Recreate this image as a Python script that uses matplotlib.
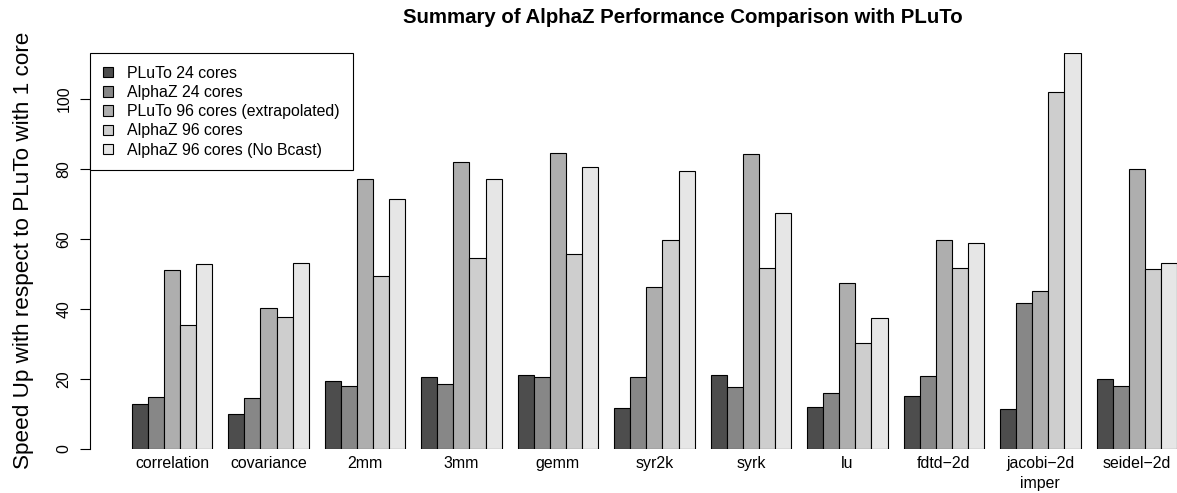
import numpy as np
import matplotlib
matplotlib.use("Agg")
import matplotlib.pyplot as plt
from matplotlib.patches import Patch

plt.rcParams['font.family'] = ['Liberation Sans', 'DejaVu Sans']

# benchmark names (R style minus sign in names)
benchmarks = ["correlation", "covariance", "2mm", "3mm", "gemm", "syr2k", "syrk",
              "lu", "fdtd\u22122d", "jacobi\u22122d\nimper", "seidel\u22122d"]

series_names = ["PLuTo 24 cores", "AlphaZ 24 cores", "PLuTo 96 cores (extrapolated)",
                "AlphaZ 96 cores", "AlphaZ 96 cores (No Bcast)"]

pluto_24 = [12.8, 10.1, 19.4, 20.5, 21.1, 11.6, 21.1, 12.0, 15.0, 11.3, 20.0]
alphaz_24 = [14.8, 14.7, 18.1, 18.7, 20.5, 20.5, 17.6, 16.0, 20.8, 41.6, 18.0]
pluto_96 = [51.1, 40.4, 77.2, 81.9, 84.4, 46.4, 84.2, 47.5, 59.7, 45.1, 79.9]
alphaz_96 = [35.3, 37.6, 49.3, 54.6, 55.6, 59.6, 51.7, 30.2, 51.7, 102.1, 51.5]
alphaz_96_nobcast = [52.9, 53.1, 71.3, 77.0, 80.5, 79.5, 67.3, 37.5, 58.9, 113.1, 53.2]

data = [pluto_24, alphaz_24, pluto_96, alphaz_96, alphaz_96_nobcast]
# gray.colors(5) from R
colors = ["#4D4D4D", "#878787", "#AEAEAE", "#CECECE", "#E6E6E6"]

W, H = 1177, 493
fig = plt.figure(figsize=(W / 100, H / 100), dpi=100)
ax = fig.add_axes([90 / W, 44 / H, (W - 90) / W, 396 / H])

n = len(benchmarks)
for s in range(5):
    x = 1 + 6 * np.arange(n) + s
    ax.bar(x, data[s], width=1, align='edge', color=colors[s],
           edgecolor='black', linewidth=0.8)

ax.set_xlim(-1.6, 66.0)
ax.set_ylim(0, max(alphaz_96_nobcast))

for sp in ['top', 'right', 'bottom']:
    ax.spines[sp].set_visible(False)
ax.spines['left'].set_bounds(0, 100)
ax.spines['left'].set_linewidth(0.8)

ax.set_yticks(range(0, 101, 20))
ax.set_yticklabels([str(v) for v in range(0, 101, 20)], rotation=90, va='center')
ax.tick_params(axis='y', length=7, width=0.8, pad=6.5, labelsize=11.4)

ax.set_xticks(3.5 + 6 * np.arange(n))
ax.set_xticklabels(benchmarks, fontsize=11.4, linespacing=1.45)
ax.tick_params(axis='x', length=0, pad=5)

handles = [Patch(facecolor=c, edgecolor='black', linewidth=0.8) for c in colors]
leg = ax.legend(handles, series_names, loc='upper left', bbox_to_anchor=(0, 1),
                borderaxespad=0, fancybox=False, edgecolor='black', fontsize=11.4,
                handlelength=0.65, handleheight=0.65, handletextpad=0.9,
                labelspacing=0.27, borderpad=0.8, framealpha=1)
leg.get_frame().set_linewidth(0.8)

fig.text(683 / W, 1 - 23 / H, "Summary of AlphaZ Performance Comparison with PLuTo",
         ha='center', va='baseline', fontsize=14.7, fontweight='bold')
fig.text(24 / W, 1 - 250 / H, "Speed Up with respect to PLuTo with 1 core",
         rotation=90, ha='center', va='center', fontsize=16.2)

fig.savefig("out.png", dpi=100)
